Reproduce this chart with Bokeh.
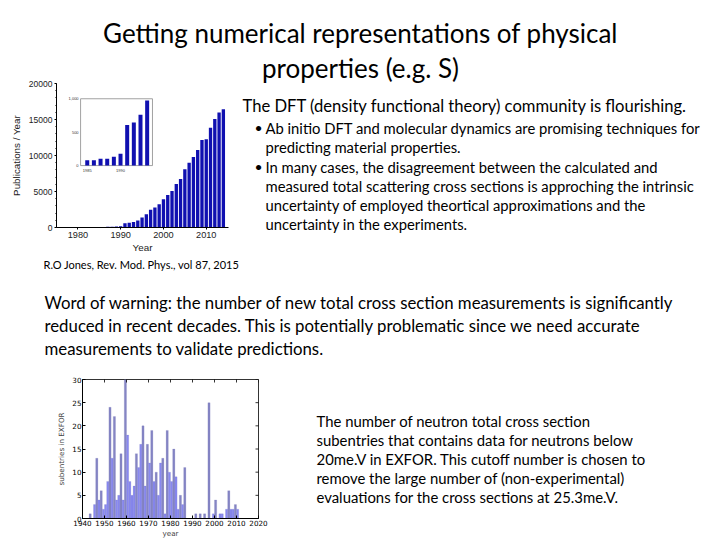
import math
from bokeh.plotting import figure
from bokeh.models import Range1d, FixedTicker
from bokeh.layouts import column, row
from bokeh.embed import file_html
from bokeh.resources import INLINE
from bokeh.core.properties import value

# ---------------- data ----------------
title_lines = ["Getting numerical representations of physical", "properties (e.g. S)"]
dft_line = "The DFT (density functional theory) community is flourishing."
bullet_lines = [
    "Ab initio DFT and molecular dynamics are promising techniques for",
    "predicting material properties.",
    "In many cases, the disagreement between the calculated and",
    "measured total scattering cross sections is approching the intrinsic",
    "uncertainty of employed theortical approximations and the",
    "uncertainty in the experiments.",
]
bullet_starts = [0, 2]
ref_line = "R.O Jones, Rev. Mod. Phys., vol 87, 2015"
warning_lines = [
    "Word of warning: the number of new total cross section measurements is significantly",
    "reduced in recent decades. This is potentially problematic since we need accurate",
    "measurements to validate predictions.",
]
note_lines = [
    "The number of neutron total cross section",
    "subentries that contains data for neutrons below",
    "20me.V in EXFOR. This cutoff number is chosen to",
    "remove the large number of (non-experimental)",
    "evaluations for the cross sections at 25.3me.V.",
]

pub_years = list(range(1980, 2015))
pub_counts = [40, 45, 50, 55, 65, 79, 80, 103, 104, 133, 177, 606, 645, 762, 975,
              1390, 1850, 2450, 2770, 3230, 3930, 4530, 5080, 6050, 6740, 8080,
              9000, 9790, 10760, 12150, 12240, 13860, 15060, 15980, 16440]
pub_xticks = [1980, 1990, 2000, 2010]
pub_yticks = [0, 5000, 10000, 15000, 20000]
inset_xticks = [1985, 1990]
inset_yticks = [0, 500, 1000]
inset_first, inset_last = 1985, 1994

exfor_years = [1943] + list(range(1945, 1987)) + [1991, 1993, 1995, 1997, 1999, 2000,
                                                  2002, 2003, 2005, 2006, 2007, 2008, 2009, 2010]
exfor_counts = [1,
                3, 13, 4, 6, 2, 3, 8, 24, 13, 22, 4, 5, 14, 4, 30, 18, 8, 5, 7, 14, 11,
                16, 20, 7, 16, 12, 19, 8, 10, 5, 12, 13, 1, 19, 10, 8, 15, 9, 2, 5, 3, 11,
                1, 1, 1, 25, 1, 4, 1, 1, 2, 6, 2, 2, 3, 2]
exfor_xticks = [1940, 1950, 1960, 1970, 1980, 1990, 2000, 2010, 2020]
exfor_yticks = [0, 5, 10, 15, 20, 25, 30]

TEXT_FONT = "Lato"


def text_fig(x0, x1, y0, y1):
    p = figure(width=int(x1 - x0), height=int(y1 - y0),
               x_range=Range1d(x0, x1), y_range=Range1d(y1, y0),
               x_axis_location=None, y_axis_location=None,
               output_backend="svg", toolbar_location=None,
               min_border=0, min_border_left=0, min_border_right=0,
               min_border_top=0, min_border_bottom=0)
    p.frame_align = False
    p.grid.visible = False
    p.outline_line_color = None
    return p


def put_text(p, xs, ys, texts, size, align="left"):
    p.text(x=xs, y=ys, text=texts, text_font=value(TEXT_FONT), text_font_size=size,
           text_baseline="middle", text_align=align, text_color="#000000")


# ---------- row 1 : title line 1 ----------
t1 = text_fig(0, 720, 0, 50)
put_text(t1, [360], [32], [title_lines[0]], "26px", align="center")

# ---------- row 2 : chart 1 + DFT text ----------
c1 = figure(width=240, height=205, x_range=Range1d(1975, 2015.2), y_range=Range1d(0, 20000),
            output_backend="svg", toolbar_location=None,
            min_border_left=56, min_border_right=12, min_border_top=33, min_border_bottom=27)
c1.frame_align = False
c1.grid.visible = False
c1.outline_line_color = None
c1.vbar(x=pub_years, top=pub_counts, width=0.78, fill_color="#1010b0", line_color=None)
for ax in (c1.xaxis[0], c1.yaxis[0]):
    ax.axis_line_color = "#000000"
    ax.major_tick_line_color = "#000000"
    ax.minor_tick_line_color = "#000000"
    ax.major_tick_out = 2
    ax.major_tick_in = 0
    ax.minor_tick_out = 1
    ax.minor_tick_in = 0
    ax.major_label_text_font = "Liberation Sans"
    ax.major_label_text_font_size = "8.5px"
    ax.major_label_text_color = "#222222"
    ax.axis_label_text_font = "Liberation Sans"
    ax.axis_label_text_font_size = "9.8px"
    ax.axis_label_text_font_style = "normal"
    ax.axis_label_text_color = "#222222"
    ax.major_label_standoff = 2
    ax.axis_label_standoff = 1
c1.xaxis.major_label_text_font_size = "9.2px"
c1.xaxis.ticker = FixedTicker(ticks=pub_xticks, minor_ticks=[])
c1.yaxis.ticker = FixedTicker(ticks=pub_yticks, minor_ticks=list(range(0, 20001, 1000)))
c1.xaxis.axis_label = "Year"
c1.yaxis.axis_label = "Publications / Year"
c1.yaxis.axis_label_standoff = 4

# inset (own ranges mapped into a sub-region of the frame)
ix0, ix1 = 1984.0, 1994.8
iy0, iy1 = inset_yticks[0], inset_yticks[-1]
fx0, fx1 = 0.14, 0.558
fy0, fy1 = 0.43, 0.894
sx = (ix1 - ix0) / (fx1 - fx0)
sy = (iy1 - iy0) / (fy1 - fy0)
c1.extra_x_ranges = {"ix": Range1d(ix0 - fx0 * sx, ix0 + (1 - fx0) * sx)}
c1.extra_y_ranges = {"iy": Range1d(iy0 - fy0 * sy, iy0 + (1 - fy0) * sy)}
c1.quad(left=[ix0], right=[ix1], bottom=[iy0], top=[iy1], fill_color="white",
        line_color="#8a8a8a", line_width=0.8, x_range_name="ix", y_range_name="iy")
in_years = [y for y in pub_years if inset_first <= y <= inset_last]
in_counts = [c for y, c in zip(pub_years, pub_counts) if inset_first <= y <= inset_last]
c1.vbar(x=in_years, top=in_counts, width=0.6, fill_color="#1010b0", line_color=None,
        x_range_name="ix", y_range_name="iy")
c1.text(x=[ix0] * len(inset_yticks), y=inset_yticks, text=[f"{v:,}" for v in inset_yticks],
        text_font=value("Liberation Sans"), text_font_size="4px", text_align="right",
        text_baseline="middle", x_offset=-2, text_color="#333333",
        x_range_name="ix", y_range_name="iy")
c1.text(x=inset_xticks, y=[iy0] * len(inset_xticks), text=[str(v) for v in inset_xticks],
        text_font=value("Liberation Sans"), text_font_size="4px", text_align="center",
        text_baseline="top", y_offset=3, text_color="#333333",
        x_range_name="ix", y_range_name="iy")

t2 = text_fig(240, 720, 50, 255)
put_text(t2, [360], [67], [title_lines[1]], "26px", align="center")
put_text(t2, [242], [105], [dft_line], "16.6px")
bullet_y = [127, 146, 166, 185, 204, 223]
put_text(t2, [265] * len(bullet_lines), bullet_y, bullet_lines, "14.8px")
put_text(t2, [254] * len(bullet_starts), [bullet_y[i] for i in bullet_starts],
         ["\u2022"] * len(bullet_starts), "14px")

# ---------- row 2b : reference ----------
t3 = text_fig(0, 720, 255, 290)
put_text(t3, [43], [264], [ref_line], "11px")

# ---------- row 3 : warning ----------
t4 = text_fig(0, 720, 290, 365)
put_text(t4, [44] * 3, [302, 325, 348], warning_lines, "16.8px")

# ---------- row 4 : chart 2 + note ----------
c2 = figure(width=290, height=175, x_range=Range1d(1940, 2020), y_range=Range1d(0, 30),
            output_backend="svg", toolbar_location=None,
            min_border_left=82, min_border_right=32, min_border_top=14, min_border_bottom=22)
c2.frame_align = False
c2.grid.visible = False
c2.outline_line_color = "#000000"
c2.outline_line_width = 0.8
cols = []
for i, v in enumerate(exfor_counts):
    left = exfor_counts[i - 1] if i > 0 and exfor_years[i - 1] == exfor_years[i] - 1 else 0
    right = exfor_counts[i + 1] if i + 1 < len(exfor_counts) and exfor_years[i + 1] == exfor_years[i] + 1 else 0
    cols.append("#8585c4" if (v > left and v > right) else "#8888f0")
c2.vbar(x=[y + 0.5 for y in exfor_years], top=exfor_counts, width=1.0,
        fill_color=cols, line_color="#6f6fb8", line_width=0.3, line_alpha=0.6)
# inward tick marks on the right and top edges (dash markers clipped by the frame)
c2.scatter(x=[c2.x_range.end] * len(exfor_yticks), y=exfor_yticks, marker="dash",
           size=6, line_color="#000000", line_width=0.8)
c2.scatter(x=exfor_xticks, y=[c2.y_range.end] * len(exfor_xticks), marker="dash",
           angle=math.pi / 2, size=6, line_color="#000000", line_width=0.8)
for ax in c2.axis:
    ax.axis_line_color = "#000000"
    ax.major_tick_line_color = "#000000"
    ax.major_tick_out = 0
    ax.major_tick_in = 3
    ax.minor_tick_line_color = None
    ax.major_label_text_font = "DejaVu Sans"
    ax.major_label_text_font_size = "7.2px"
    ax.major_label_text_color = "#000000"
    ax.axis_label_text_font = "DejaVu Sans"
    ax.axis_label_text_font_size = "7.2px"
    ax.axis_label_text_font_style = "normal"
    ax.major_label_standoff = 1
    ax.axis_label_standoff = 0
c2.xaxis.ticker = FixedTicker(ticks=exfor_xticks)
c2.yaxis.ticker = FixedTicker(ticks=exfor_yticks)
c2.xaxis.axis_label = "year"
c2.yaxis.axis_label = "subentries in EXFOR"
c2.yaxis.axis_label_standoff = 3

t5 = text_fig(290, 720, 365, 540)
put_text(t5, [316] * len(note_lines), [420, 439, 458, 477, 496], note_lines, "14.9px")

layout = column(t1, row(c1, t2), t3, t4, row(c2, t5))
open("out.html", "w").write(file_html(layout, INLINE))
